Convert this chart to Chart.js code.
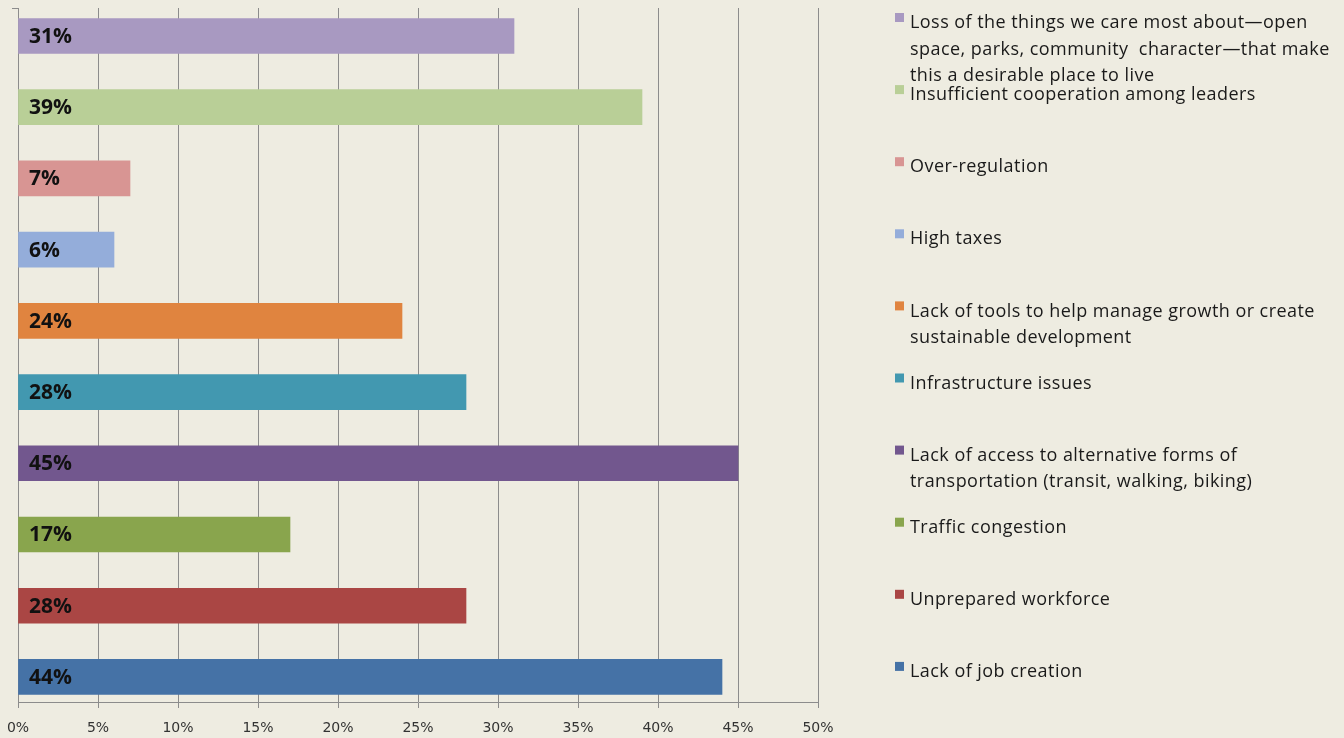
<!DOCTYPE html>
<html>
<head>
<meta charset="utf-8">
<script src="https://cdn.jsdelivr.net/npm/chart.js@4"></script>
<style>
  html, body { margin: 0; padding: 0; background: #eeece1; }
  #wrap { width: 1344px; height: 738px; position: relative; }
</style>
</head>
<body>
<div id="wrap"><canvas id="grafico" width="1344" height="738"></canvas></div>
<script>
// datos, de arriba hacia abajo
const categorias = [
  "Loss of the things we care most about\u2014open\nspace, parks, community  character\u2014that make\nthis a desirable place to live",
  "Insufficient cooperation among leaders",
  "Over-regulation",
  "High taxes",
  "Lack of tools to help manage growth or create\nsustainable development",
  "Infrastructure issues",
  "Lack of access to alternative forms of\ntransportation (transit, walking, biking)",
  "Traffic congestion",
  "Unprepared workforce",
  "Lack of job creation"
];
const porcentajes = [31, 39, 7, 6, 24, 28, 45, 17, 28, 44];
const colores = ['#a899c1', '#b9cf97', '#d89593', '#94adda', '#e0843f', '#4298b0', '#72578e', '#89a54d', '#aa4644', '#4572a6'];
const ticksX = [0, 5, 10, 15, 20, 25, 30, 35, 40, 45, 50];

const FUENTE = '"Open Sans", Lato, sans-serif';

// etiqueta dentro de cada barra
const etiquetasBarras = {
  id: 'etiquetasBarras',
  afterDatasetsDraw(chart) {
    const ctx = chart.ctx;
    const meta = chart.getDatasetMeta(0);
    ctx.save();
    ctx.font = 'bold 21px ' + FUENTE;
    ctx.fillStyle = '#111';
    ctx.textAlign = 'left';
    ctx.textBaseline = 'middle';
    meta.data.forEach((bar, i) => {
      ctx.fillText(porcentajes[i] + '%', chart.chartArea.left + 11, bar.y + 1);
    });
    ctx.restore();
  }
};

// leyenda a la derecha, con texto en varias líneas
const leyenda = {
  id: 'leyenda',
  afterDraw(chart) {
    const ctx = chart.ctx;
    ctx.save();
    ctx.font = '18px ' + FUENTE;
    ctx.letterSpacing = '0.45px';
    ctx.textBaseline = 'middle';
    ctx.textAlign = 'left';
    categorias.forEach((txt, i) => {
      const y = 22 + i * 72.1;
      ctx.fillStyle = colores[i];
      ctx.fillRect(895, y - 9, 9, 9);
      ctx.fillStyle = '#1a1a1a';
      txt.split('\n').forEach((linea, k) => {
        ctx.fillText(linea, 910, y + 1 + k * 26.5);
      });
    });
    ctx.restore();
  }
};

const ctx = document.getElementById('grafico').getContext('2d');
new Chart(ctx, {
  type: 'bar',
  data: {
    datasets: [{
      data: porcentajes.map((v, i) => ({ x: v, y: i })),
      backgroundColor: colores,
      borderWidth: 0,
      barThickness: 35
    }]
  },
  options: {
    indexAxis: 'y',
    responsive: false,
    animation: false,
    devicePixelRatio: 1,
    layout: { padding: { left: 0, top: 8, right: 526, bottom: 0 } },
    plugins: { legend: { display: false }, tooltip: { enabled: false } },
    scales: {
      x: {
        type: 'linear',
        min: 0,
        max: 50,
        afterBuildTicks: s => { s.ticks = ticksX.map(v => ({ value: v })); },
        afterFit: s => { s.height = 36; s.paddingLeft = 0; s.paddingRight = 0; },
        ticks: {
          callback: v => v + '%',
          color: '#333',
          font: { family: '"DejaVu Sans", sans-serif', size: 14 },
          padding: 12,
          maxRotation: 0
        },
        grid: { color: '#8c8c8c', lineWidth: 1, tickLength: 6 },
        border: { color: '#8c8c8c' }
      },
      y: {
        type: 'linear',
        reverse: true,
        offset: false,
        min: -0.393,
        max: 9.352,
        afterBuildTicks: s => { s.ticks = [{ value: s.min }]; },
        afterFit: s => { s.width = 18; },
        ticks: { display: false },
        grid: { drawOnChartArea: false, color: '#8c8c8c', tickLength: 6, offset: false },
        border: { color: '#8c8c8c' }
      }
    }
  },
  plugins: [etiquetasBarras, leyenda]
});
</script>
</body>
</html>
